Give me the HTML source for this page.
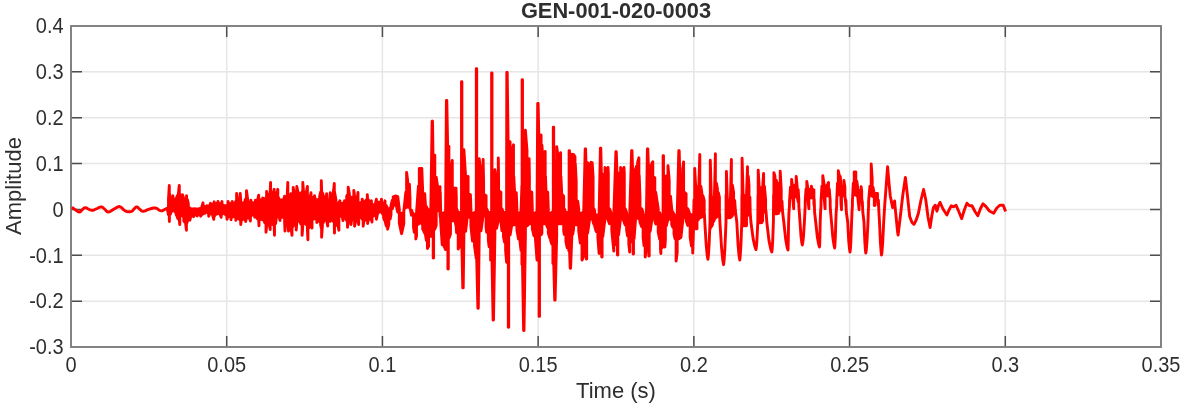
<!DOCTYPE html>
<html lang="en">
<head>
<meta charset="utf-8">
<title>GEN-001-020-0003</title>
<style>html,body{margin:0;padding:0;background:#fff;overflow:hidden}svg{display:block}</style>
</head>
<body>
<svg width="1182" height="404" viewBox="0 0 1182 404">
<rect width="1182" height="404" fill="#fff"/>
<path d="M226.71 26.0V347.0M382.43 26.0V347.0M538.14 26.0V347.0M693.86 26.0V347.0M849.57 26.0V347.0M1005.29 26.0V347.0M71.0 71.86H1161.0M71.0 117.71H1161.0M71.0 163.57H1161.0M71.0 209.43H1161.0M71.0 255.29H1161.0M71.0 301.14H1161.0" stroke="#e6e6e6" stroke-width="1.5" fill="none"/>
<path d="M226.71 26.0v11M226.71 347.0v-11M382.43 26.0v11M382.43 347.0v-11M538.14 26.0v11M538.14 347.0v-11M693.86 26.0v11M693.86 347.0v-11M849.57 26.0v11M849.57 347.0v-11M1005.29 26.0v11M1005.29 347.0v-11M71.0 71.86h11M1161.0 71.86h-11M71.0 117.71h11M1161.0 117.71h-11M71.0 163.57h11M1161.0 163.57h-11M71.0 209.43h11M1161.0 209.43h-11M71.0 255.29h11M1161.0 255.29h-11M71.0 301.14h11M1161.0 301.14h-11" stroke="#4d4d4d" stroke-width="1.5" fill="none"/>
<rect x="71.0" y="26.0" width="1090.0" height="321.0" fill="none" stroke="#7d7d7d" stroke-width="1.9"/>
<path d="M72.0 207.2L72.7 207.8L73.8 208.6L75.0 209.5L76.4 210.5L78.0 211.6L79.4 212.1L80.5 211.6L81.5 210.5L82.5 209.5L83.4 208.7L84.3 207.9L85.3 207.6L86.5 207.9L87.7 208.7L89.0 209.3L90.2 209.8L91.5 210.2L92.8 210.3L94.3 209.8L95.9 209.0L97.5 208.3L99.0 207.6L100.4 207.0L101.7 206.9L102.9 207.5L103.9 208.5L105.0 209.5L106.0 210.6L107.1 211.7L108.4 212.1L110.1 211.5L112.1 210.2L114.0 209.0L115.9 207.9L117.9 206.9L119.6 206.5L120.9 207.0L122.0 208.1L123.0 209.2L124.0 210.1L125.1 210.8L126.3 211.4L128.0 211.7L129.9 211.7L131.5 211.4L132.5 210.8L133.3 209.9L134.0 209.0L134.9 208.1L135.7 207.2L136.7 206.9L137.8 207.4L138.9 208.5L140.0 209.5L141.0 210.3L142.1 211.1L143.4 211.4L145.2 210.9L147.2 209.9L149.3 209.1L151.4 208.5L153.5 208.0L155.3 207.9L156.6 208.3L157.6 209.0L158.5 209.6L159.4 210.2L160.4 210.7L161.3 210.9L162.4 210.7L163.5 210.1L164.5 209.6L165.4 209.1L166.2 208.7L166.8 208.4L167.6 208.3L167.6 210.4L168.5 214.6L168.5 199.1L169.3 185.5L169.3 217.7L169.4 221.5L169.4 193.1L170.3 200.1L170.3 214.3L171.2 212.0L171.2 201.0L172.1 200.3L172.1 210.7L172.8 210.7L172.8 195.8L173.9 200.8L173.9 210.7L174.6 211.2L174.6 201.3L175.7 199.3L175.7 212.5L176.6 215.6L176.6 197.6L177.5 195.4L177.5 218.0L178.4 218.9L178.4 193.6L179.3 185.5L179.3 219.8L179.8 224.5L179.8 194.3L181.1 202.6L181.1 215.7L182.5 216.0L182.5 194.8L183.8 199.0L183.8 221.0L184.7 222.2L184.7 199.2L185.6 199.3L185.6 223.3L186.4 230.2L186.4 199.4L186.6 195.6L186.6 223.8L187.4 221.4L187.4 199.6L188.3 203.6L188.3 218.7L189.2 217.8L189.2 207.5L189.9 208.6L189.9 220.2L190.7 216.6L190.7 208.8L191.9 209.0L191.9 215.4L192.8 214.7L192.8 209.0L193.5 209.0L193.5 216.7L194.8 214.5L194.8 208.8L195.5 209.0L195.5 214.4L196.4 214.3L196.4 209.0L197.1 209.0L197.1 216.1L198.2 214.1L198.2 209.0L198.9 208.8L198.9 214.1L200.0 214.3L200.0 208.7L200.6 208.2L200.6 216.3L201.8 214.4L201.8 207.0L203.0 202.8L203.0 214.0L203.6 213.4L203.6 205.8L204.7 207.5L204.7 213.4L205.4 211.5L205.4 207.3L206.8 205.7L206.8 211.5L208.1 213.5L208.1 206.1L208.7 205.8L208.7 216.3L209.9 213.4L209.9 205.3L210.5 203.3L210.5 212.9L211.7 213.8L211.7 204.5L212.6 204.1L212.6 215.0L213.8 219.3L213.8 203.9L214.2 201.8L214.2 216.1L215.3 215.0L215.3 203.9L216.2 203.8L216.2 214.0L217.5 213.8L217.5 203.8L218.0 201.5L218.0 212.3L218.9 213.1L218.9 205.8L219.8 203.7L219.8 213.9L221.2 217.3L221.2 203.7L222.0 201.5L222.0 214.4L222.5 214.0L222.5 204.8L223.4 205.8L223.4 213.1L224.3 213.0L224.3 205.8L225.2 205.8L225.2 214.2L226.1 215.4L226.1 205.8L227.0 205.8L227.0 219.3L228.0 216.6L228.0 201.5L228.8 203.7L228.8 216.6L229.7 216.6L229.7 203.7L231.0 203.7L231.0 219.8L231.5 216.9L231.5 203.7L232.3 201.5L232.3 216.9L233.3 216.9L233.3 203.7L234.2 203.6L234.2 216.9L235.1 217.0L235.1 203.1L235.8 201.3L235.8 220.4L236.6 217.7L236.6 193.4L237.8 201.8L237.8 218.3L238.7 218.9L238.7 202.4L239.6 200.3L239.6 219.5L240.2 219.9L240.2 193.4L240.7 199.8L240.7 224.5L241.4 220.0L241.4 202.3L242.3 203.4L242.3 219.7L243.2 219.4L243.2 203.1L244.1 202.5L244.1 219.1L245.0 218.5L245.0 200.6L245.6 198.9L245.6 221.6L246.5 217.7L246.5 190.7L247.7 199.7L247.7 217.7L248.6 217.7L248.6 202.3L249.5 202.8L249.5 217.7L250.4 221.0L250.4 202.8L250.9 200.2L250.9 216.1L252.2 214.8L252.2 202.8L253.1 202.8L253.1 214.8L254.0 214.8L254.0 202.8L254.7 202.8L254.7 217.2L255.4 215.7L255.4 200.2L256.7 202.0L256.7 217.4L257.6 218.9L257.6 199.8L258.7 195.2L258.7 220.7L259.0 225.8L259.0 199.3L260.3 199.6L260.3 219.6L261.2 218.5L261.2 201.7L262.5 201.3L262.5 219.8L262.7 217.4L262.7 197.9L263.9 200.1L263.9 220.5L264.8 222.8L264.8 199.3L266.0 197.5L266.0 232.2L266.6 225.6L266.6 191.5L267.5 195.2L267.5 225.2L268.4 224.8L268.4 194.7L269.3 194.2L269.3 224.4L270.2 229.5L270.2 191.2L270.6 182.5L270.6 223.7L271.1 223.5L271.1 191.7L272.0 194.3L272.0 223.5L272.9 224.4L272.9 194.9L274.2 189.3L274.2 227.2L274.5 235.2L274.5 195.0L275.6 195.0L275.6 223.6L276.5 217.1L276.5 195.0L277.8 189.3L277.8 215.6L278.3 216.1L278.3 197.3L279.2 199.7L279.2 216.8L280.0 220.5L280.0 199.9L281.0 199.9L281.0 217.4L281.9 217.4L281.9 199.9L282.8 199.9L282.8 217.4L283.7 217.4L283.7 199.9L284.6 196.2L284.6 221.9L285.0 231.1L285.0 202.2L286.4 200.0L286.4 225.0L287.3 225.0L287.3 193.6L287.8 182.5L287.8 225.0L288.5 231.1L288.5 195.0L289.1 198.7L289.1 225.1L290.0 226.0L290.0 198.3L290.9 193.7L290.9 226.9L292.0 235.3L292.0 193.7L292.7 193.7L292.7 226.9L293.2 226.0L293.2 187.5L294.5 193.7L294.5 224.3L295.4 224.3L295.4 193.7L296.2 193.7L296.2 230.1L296.8 222.5L296.8 186.5L298.1 192.9L298.1 221.0L299.0 221.0L299.0 192.9L299.9 198.0L299.9 221.3L300.8 224.1L300.8 195.6L302.1 191.7L302.1 235.3L302.8 226.0L302.8 182.5L303.5 191.0L303.5 224.0L304.4 221.3L304.4 192.1L305.3 192.9L305.3 221.3L306.2 224.5L306.2 192.9L307.4 186.5L307.4 229.2L307.9 239.7L307.9 195.9L308.9 198.9L308.9 228.0L309.8 225.1L309.8 198.9L311.0 192.7L311.0 222.8L312.0 228.1L312.0 197.3L313.4 201.1L313.4 219.1L314.5 218.8L314.5 195.8L315.2 199.6L315.2 218.8L316.1 218.8L316.1 199.6L316.8 199.6L316.8 222.5L317.9 218.8L317.9 199.6L318.8 199.6L318.8 219.3L319.7 221.7L319.7 196.3L320.6 192.1L320.6 224.7L321.3 228.0L321.3 180.7L321.6 189.8L321.6 237.2L322.4 225.9L322.4 192.8L323.3 195.4L323.3 222.4L324.2 219.9L324.2 197.2L325.1 198.1L325.1 219.9L326.0 220.1L326.0 198.1L326.7 193.7L326.7 220.6L327.7 226.0L327.7 200.3L328.7 200.3L328.7 221.3L329.6 221.3L329.6 200.3L330.3 192.7L330.3 221.3L331.4 217.7L331.4 197.3L332.3 197.3L332.3 217.7L333.2 221.3L333.2 194.2L334.3 183.5L334.3 225.6L334.5 233.1L334.5 191.7L335.9 199.8L335.9 225.3L336.8 224.5L336.8 203.2L337.7 203.2L337.7 224.4L338.9 230.2L338.9 203.2L339.9 200.8L339.9 216.5L341.3 214.2L341.3 204.8L342.2 203.2L342.2 215.9L343.0 220.5L343.0 203.2L344.0 203.2L344.0 217.4L344.5 217.4L344.5 200.8L345.8 202.4L345.8 218.9L346.7 220.7L346.7 196.2L347.5 194.8L347.5 227.2L348.2 221.7L348.2 187.3L349.4 194.0L349.4 220.7L350.3 220.2L350.3 196.7L351.0 202.5L351.0 224.5L352.1 216.9L352.1 198.6L353.0 196.9L353.0 218.6L353.8 220.0L353.8 190.4L354.6 196.2L354.6 226.2L355.7 220.8L355.7 197.2L356.6 197.2L356.6 220.2L357.5 220.2L357.5 197.2L358.0 192.4L358.0 220.2L358.7 224.5L358.7 202.8L359.3 202.8L359.3 218.0L360.2 214.8L360.2 202.8L361.1 202.8L361.1 216.8L362.2 219.2L362.2 199.2L363.2 202.1L363.2 226.2L363.8 221.1L363.8 202.1L364.7 202.1L364.7 220.5L365.6 220.0L365.6 200.7L366.5 199.6L366.5 219.8L367.3 219.6L367.3 194.8L367.6 199.1L367.6 223.5L368.3 219.4L368.3 199.6L369.2 201.3L369.2 219.3L370.1 219.1L370.1 203.2L371.4 200.8L371.4 218.9L372.0 222.1L372.0 203.8L372.8 204.6L372.8 216.4L373.7 214.9L373.7 205.6L374.6 204.7L374.6 215.5L375.5 216.0L375.5 203.4L376.4 199.2L376.4 219.3L377.3 214.8L377.3 202.1L378.2 202.1L378.2 213.0L379.1 211.5L379.1 202.1L380.0 202.1L380.0 211.5L381.3 212.2L381.3 202.1L381.5 199.2L381.5 211.5L382.7 214.1L382.7 203.2L383.6 203.2L383.6 217.6L384.5 220.3L384.5 203.2L385.0 200.8L385.0 220.6L386.2 225.7L386.2 205.4L386.8 226.6L386.8 206.6L387.6 208.9L387.6 229.2L388.8 224.5L388.8 212.4L390.1 208.3L390.1 219.1L391.0 214.7L391.0 205.3L392.3 200.3L392.3 208.7L393.2 205.8L393.2 196.8L394.5 196.3L394.5 203.2L395.5 205.2L395.5 195.9L396.7 196.4L396.7 207.5L397.8 212.3L397.8 196.8L399.3 209.3L399.3 223.3L401.5 233.4L401.5 213.3L401.6 213.3L401.6 233.7L403.8 223.6L403.8 211.3L405.8 192.3L405.8 207.7L406.6 206.8L406.6 172.5L407.6 180.3L407.6 207.0L409.4 207.4L409.4 184.2L410.0 198.3L410.0 207.5L411.5 215.2L411.5 210.3L413.5 215.3L413.5 227.2L414.3 232.4L414.3 214.8L415.8 213.8L415.8 239.0L416.5 235.9L416.5 213.3L418.4 186.3L418.4 224.2L419.3 222.7L419.3 168.4L420.9 168.4L420.9 222.7L421.8 223.8L421.8 168.4L422.7 191.8L422.7 228.9L424.7 233.2L424.7 193.8L425.4 204.3L425.4 234.2L426.4 240.4L426.4 206.6L427.4 208.8L427.4 248.6L428.6 246.4L428.6 209.7L429.7 210.4L429.7 225.8L430.8 236.4L430.8 211.2L432.1 121.3L432.1 234.7L432.5 234.7L432.5 121.3L433.2 169.3L433.2 258.0L433.6 258.0L433.6 169.3L434.8 155.3L434.8 229.2L436.2 225.2L436.2 177.3L438.2 190.8L438.2 210.7L439.0 210.7L439.0 190.3L440.0 186.7L440.0 214.6L440.3 217.6L440.3 192.3L440.6 208.8L440.6 220.7L442.2 244.7L442.2 213.3L444.0 212.7L444.0 246.2L445.6 249.5L445.6 212.0L446.4 100.4L446.4 247.7L446.8 247.7L446.8 100.4L447.9 160.3L447.9 269.1L448.3 269.1L448.3 160.3L448.9 146.3L448.9 238.5L450.5 234.0L450.5 171.3L452.3 160.4L452.3 220.7L453.9 220.7L453.9 188.2L455.0 188.2L455.0 220.7L456.0 226.1L456.0 188.2L456.3 196.8L456.3 228.8L456.6 232.7L456.6 208.8L458.2 213.3L458.2 249.0L459.4 244.6L459.4 212.8L460.3 212.3L460.3 246.8L461.5 247.7L461.5 81.8L461.9 81.8L461.9 247.7L462.8 287.9L462.8 163.8L463.2 163.8L463.2 287.9L463.9 236.7L463.9 149.8L465.6 176.5L465.6 231.3L467.3 216.7L467.3 176.7L468.1 176.5L468.1 216.7L468.4 216.7L468.4 193.7L469.3 194.2L469.3 216.7L470.4 218.2L470.4 194.8L470.9 208.8L470.9 226.0L472.5 241.1L472.5 213.3L474.5 212.5L474.5 245.8L476.3 258.6L476.3 68.6L476.7 68.6L476.7 258.6L477.9 308.2L477.9 172.8L478.3 172.8L478.3 308.2L479.2 236.1L479.2 158.8L481.0 172.3L481.0 230.7L483.1 215.7L483.1 159.4L483.6 181.4L483.6 215.7L484.6 215.7L484.6 194.8L486.1 195.8L486.1 227.3L486.7 232.3L486.7 208.8L488.3 213.3L488.3 239.5L489.1 246.7L489.1 212.9L490.6 212.2L490.6 260.0L491.6 260.6L491.6 73.0L492.0 73.0L492.0 260.6L493.1 320.1L493.1 183.7L493.5 183.7L493.5 320.1L494.9 234.7L494.9 169.7L496.5 180.3L496.5 228.4L498.3 220.7L498.3 157.9L498.6 181.3L498.6 220.7L499.3 220.7L499.3 191.2L500.9 192.2L500.9 220.7L501.9 230.7L501.9 208.8L503.5 213.3L503.5 236.7L504.5 242.1L504.5 212.8L505.6 212.3L505.6 250.5L506.6 262.1L506.6 184.0L506.8 72.5L506.8 262.6L507.2 262.6L507.2 72.5L508.3 155.7L508.3 327.2L508.7 327.2L508.7 155.7L510.1 141.7L510.1 234.9L511.8 224.7L511.8 152.3L513.5 144.8L513.5 224.7L513.8 224.7L513.8 176.5L514.6 192.2L514.6 224.7L516.3 224.7L516.3 192.7L516.9 208.8L516.9 230.0L518.5 238.9L518.5 213.3L519.9 212.7L519.9 240.6L521.0 250.4L521.0 212.2L521.9 185.4L521.9 264.1L522.1 264.6L522.1 79.8L522.5 79.8L522.5 264.6L523.6 330.6L523.6 144.3L524.0 144.3L524.0 330.6L525.4 235.0L525.4 130.3L527.0 150.3L527.0 225.9L529.1 223.7L529.1 158.7L529.4 176.5L529.4 223.7L529.8 223.7L529.8 191.2L530.9 191.8L530.9 223.7L531.8 223.7L531.8 192.2L532.3 208.8L532.3 228.5L533.9 235.7L533.9 213.3L535.3 212.8L535.3 237.0L537.0 260.0L537.0 212.0L537.7 103.4L537.7 260.6L538.1 260.6L538.1 103.4L539.1 148.9L539.1 316.4L539.5 316.4L539.5 148.9L541.1 134.9L541.1 234.9L541.9 233.3L541.9 145.2L543.0 159.3L543.0 223.7L544.1 223.7L544.1 155.4L545.2 151.4L545.2 223.7L545.5 223.7L545.5 176.3L546.0 191.3L546.0 223.7L547.7 227.7L547.7 192.3L548.3 208.8L548.3 233.0L549.9 238.3L549.9 213.3L550.7 213.0L550.7 240.8L551.8 244.0L551.8 212.4L552.9 211.9L552.9 263.6L553.3 262.6L553.3 127.3L553.7 127.3L553.7 262.6L554.7 300.1L554.7 160.8L555.1 160.8L555.1 300.1L556.7 234.8L556.7 146.8L558.5 160.3L558.5 223.7L559.5 223.7L559.5 156.7L560.6 152.7L560.6 223.7L560.9 223.7L560.9 176.3L561.7 193.3L561.7 223.7L562.8 223.7L562.8 195.0L563.7 196.3L563.7 230.7L564.3 234.4L564.3 208.8L565.9 213.3L565.9 241.5L567.2 247.7L567.2 212.7L568.8 211.8L568.8 250.7L569.1 248.7L569.1 150.7L569.5 150.7L569.5 248.7L570.2 268.2L570.2 168.3L570.6 168.3L570.6 268.2L571.8 237.1L571.8 154.3L572.7 154.4L572.7 234.2L573.6 228.7L573.6 154.5L575.0 156.8L575.0 224.7L575.3 224.7L575.3 163.7L576.2 181.3L576.2 224.7L577.7 224.7L577.7 201.3L578.7 208.8L578.7 230.9L580.3 243.1L580.3 213.3L582.0 212.8L582.0 260.1L583.7 255.9L583.7 212.2L585.2 148.9L585.2 251.7L585.6 251.7L585.6 148.9L586.3 176.8L586.3 259.1L586.7 259.1L586.7 176.8L587.6 162.8L587.6 233.1L590.0 216.4L590.0 164.3L591.0 162.3L591.0 216.1L592.2 219.5L592.2 162.8L593.1 177.3L593.1 222.1L593.9 224.2L593.9 208.8L594.7 210.9L594.7 226.2L596.2 231.5L596.2 214.8L597.9 215.3L597.9 238.2L599.1 253.5L599.1 215.6L600.4 148.2L600.4 242.7L600.8 242.7L600.8 148.2L601.7 188.3L601.7 257.1L602.1 257.1L602.1 188.3L602.8 174.3L602.8 236.7L605.0 218.5L605.0 167.5L606.5 169.8L606.5 215.2L608.0 219.5L608.0 167.5L608.3 173.3L608.3 220.4L609.5 223.7L609.5 208.8L611.8 214.8L611.8 230.8L613.8 251.1L613.8 215.4L615.9 151.8L615.9 244.7L616.3 244.7L616.3 151.8L617.4 187.3L617.4 255.0L617.8 255.0L617.8 187.3L618.6 173.3L618.6 234.9L620.6 217.9L620.6 167.5L622.3 169.8L622.3 216.9L624.0 221.8L624.0 167.5L624.3 173.3L624.3 222.7L625.2 225.0L625.2 208.8L626.6 212.5L626.6 229.9L627.5 235.7L627.5 214.8L628.8 215.2L628.8 244.0L629.7 252.1L629.7 215.4L631.6 150.7L631.6 241.7L632.0 241.7L632.0 150.7L633.1 187.3L633.1 254.1L633.5 254.1L633.5 187.3L634.1 173.3L634.1 238.6L635.4 221.5L635.4 169.6L636.5 166.3L636.5 218.5L637.6 215.5L637.6 162.4L638.9 157.8L638.9 218.3L639.2 219.4L639.2 175.4L640.0 197.3L640.0 222.3L641.7 226.8L641.7 208.8L643.1 212.5L643.1 237.1L644.0 245.5L644.0 214.8L645.2 215.2L645.2 257.1L646.4 247.9L646.4 215.6L647.4 148.9L647.4 238.7L647.8 238.7L647.8 148.9L648.8 179.8L648.8 256.0L649.2 256.0L649.2 179.8L650.2 165.8L650.2 231.4L651.9 219.3L651.9 163.1L652.8 161.7L652.8 216.9L653.2 215.8L653.2 176.8L654.8 177.7L654.8 220.6L655.7 223.9L655.7 192.2L658.2 208.8L658.2 231.9L659.6 238.9L659.6 212.5L660.5 214.8L660.5 249.0L660.9 253.6L660.9 215.0L661.8 215.4L661.8 248.0L663.1 238.7L663.1 155.8L663.5 155.8L663.5 238.7L664.5 247.0L664.5 194.3L664.9 194.3L664.9 247.0L665.4 238.9L665.4 180.3L666.2 175.9L666.2 226.1L668.0 218.8L668.0 165.8L669.2 180.3L669.2 215.9L670.5 219.6L670.5 196.3L671.7 208.8L671.7 224.4L672.8 227.3L672.8 211.7L674.0 214.8L674.0 234.0L675.0 238.8L675.0 215.1L676.1 215.3L676.1 261.1L677.2 252.6L677.2 215.6L678.8 150.7L678.8 238.7L679.2 238.7L679.2 150.7L680.3 195.9L680.3 237.8L680.7 237.8L680.7 195.9L681.0 181.9L681.0 237.2L682.7 220.9L682.7 168.9L683.6 161.9L683.6 217.8L684.5 214.7L684.5 192.2L686.1 193.8L686.1 220.5L687.8 225.5L687.8 208.8L690.1 214.8L690.1 237.1L691.5 245.9L691.5 214.8L692.7 214.8L692.7 253.1L693.3 236.0L694.0 200.0L694.7 228.7L694.7 168.4L695.7 187.0L695.7 228.7L697.0 228.7L697.0 187.0L698.1 187.0L698.1 220.0L698.8 218.4L698.8 187.0L699.8 154.5L699.8 217.9L700.8 217.4L700.8 186.3L701.8 192.2L701.8 216.9L702.8 216.4L702.8 195.5L704.2 200.5L704.2 215.7L704.4 214.0L704.8 222.0L706.2 245.1L707.2 255.6L707.9 259.3L708.4 255.6L709.1 245.1L710.0 222.0L710.1 195.0L710.3 228.7L710.3 160.3L711.3 197.2L711.3 226.8L712.6 224.4L712.6 197.2L713.8 197.2L713.8 221.3L714.4 219.3L714.4 197.2L715.4 153.8L715.4 218.0L716.4 217.2L716.4 183.3L717.4 188.8L717.4 216.3L718.4 215.5L718.4 192.7L719.4 197.2L719.4 214.7L719.6 214.0L719.9 222.0L721.6 248.5L722.8 260.4L723.6 264.7L724.1 260.4L724.9 248.5L726.0 222.0L726.1 195.0L726.4 217.7L726.4 171.4L727.4 200.5L727.4 217.7L728.7 217.7L728.7 200.5L729.9 200.5L729.9 217.7L730.4 217.7L730.4 200.5L731.4 159.4L731.4 216.8L732.4 215.5L732.4 185.3L733.6 192.2L733.6 214.0L734.7 212.7L734.7 200.5L735.4 211.0L736.8 222.0L738.1 245.6L739.1 256.2L739.8 260.0L740.2 256.2L740.9 245.6L741.8 222.0L741.9 195.0L742.1 225.7L742.1 158.2L743.1 195.4L743.1 225.7L744.4 225.7L744.4 195.4L745.5 195.4L745.5 225.7L746.5 225.7L746.5 195.4L747.5 166.8L747.5 215.8L748.3 213.7L748.3 176.3L749.0 185.5L749.0 212.8L749.9 211.7L749.9 197.2L750.2 212.0L750.9 222.0L753.2 239.1L754.9 246.8L756.0 249.6L756.4 246.8L757.0 239.1L757.8 222.0L758.0 195.0L758.2 222.7L758.2 170.2L759.2 187.8L759.2 222.7L760.5 222.7L760.5 187.8L761.6 187.8L761.6 222.7L762.6 220.8L762.6 187.8L763.6 173.4L763.6 212.5L764.4 211.4L764.4 186.3L765.6 199.3L765.6 209.7L766.0 211.0L766.8 222.0L769.0 240.6L770.7 249.0L771.8 252.0L772.2 249.0L772.7 240.6L773.4 222.0L773.6 195.0L773.9 213.7L773.9 172.7L775.0 176.3L775.0 213.7L776.3 213.7L776.3 180.2L776.9 183.3L776.9 213.7L778.5 213.4L778.5 183.3L779.2 183.3L779.2 211.6L780.2 209.5L780.2 171.3L781.2 189.3L781.2 209.0L782.0 208.7L782.0 201.3L782.6 212.0L783.8 222.0L785.7 239.4L787.1 247.2L788.0 250.0L788.1 247.2L788.3 239.4L788.6 222.0L789.0 212.0L789.5 205.7L789.5 201.3L790.5 187.3L790.5 197.5L791.6 196.7L791.6 179.5L792.6 187.3L792.6 196.7L793.7 208.7L793.7 190.8L794.9 185.3L794.9 196.7L796.2 196.7L796.2 176.5L797.2 187.3L797.2 196.7L798.2 202.1L798.2 189.8L798.8 199.3L798.8 205.7L799.3 212.0L800.0 222.0L801.0 236.3L801.8 242.7L802.3 245.0L802.8 242.7L803.5 236.3L804.4 222.0L804.9 212.0L805.2 205.7L805.2 201.3L806.0 189.3L806.0 198.5L806.8 197.7L806.8 181.5L807.8 188.3L807.8 197.7L808.9 208.7L808.9 191.8L810.2 189.3L810.2 197.7L811.4 197.7L811.4 186.2L812.1 189.0L812.1 197.7L812.7 197.7L812.7 191.3L813.9 189.8L813.9 203.6L814.2 205.7L814.2 199.3L814.6 212.0L815.7 222.0L817.4 237.5L818.7 244.5L819.5 247.0L819.7 244.5L819.9 237.5L820.2 222.0L820.6 212.0L821.0 205.7L821.0 201.3L821.9 186.3L821.9 195.7L822.8 195.7L822.8 175.7L823.9 183.3L823.9 195.7L825.1 208.7L825.1 187.2L826.8 185.3L826.8 195.7L827.9 195.7L827.9 183.5L828.5 182.5L828.5 195.7L829.3 195.7L829.3 189.3L830.2 200.3L830.2 205.7L830.6 212.0L831.5 222.0L832.9 238.1L834.0 245.4L834.7 248.0L834.9 245.4L835.3 238.1L835.8 222.0L836.2 212.0L836.7 205.7L836.7 201.3L837.5 183.3L837.5 194.7L838.3 194.7L838.3 170.7L839.3 175.3L839.3 194.7L840.3 194.7L840.3 176.5L840.9 185.3L840.9 202.2L841.5 209.7L841.5 189.8L842.7 186.3L842.7 195.7L843.9 195.7L843.9 180.5L844.9 187.3L844.9 195.7L845.9 205.7L845.9 200.3L846.3 212.0L847.7 222.0L848.7 240.6L849.5 249.0L850.0 252.0L850.4 249.0L850.9 240.6L851.6 222.0L852.0 212.0L852.4 205.7L852.4 201.3L853.3 183.3L853.3 194.7L854.2 194.9L854.2 171.9L855.8 171.9L855.8 195.2L856.8 195.5L856.8 181.3L857.6 186.7L857.6 195.7L859.1 209.7L859.1 193.8L860.1 190.3L860.1 197.7L861.1 197.7L861.1 186.7L861.7 191.3L861.7 197.7L862.3 205.7L862.3 201.3L862.8 212.0L864.0 222.0L864.8 241.2L865.4 249.9L865.8 253.0L866.3 249.9L867.0 241.2L868.0 222.0L868.3 212.0L868.6 205.7L868.6 201.3L869.9 186.3L869.9 194.7L871.2 195.5L871.2 164.0L872.2 179.3L872.2 196.1L873.0 196.7L873.0 187.3L874.3 194.3L874.3 205.6L874.9 205.4L874.9 195.8L875.8 193.5L875.8 198.7L876.6 198.7L876.6 193.5L877.5 193.5L877.5 198.7L878.4 205.7L878.4 200.3L878.9 212.0L879.5 222.0L880.4 242.5L881.1 251.7L881.5 255.0L882.0 251.7L882.7 242.5L883.7 222.0L884.8 204.0L887.6 166.6L889.1 184.0L890.3 196.0L892.6 207.5L894.6 200.9L895.3 209.0L896.6 222.0L897.6 232.0L898.1 235.0L900.5 215.0L902.8 195.0L905.4 177.5L907.5 196.0L909.7 216.5L912.0 222.5L914.0 224.3L916.2 220.0L918.4 213.3L921.0 200.0L923.6 189.5L925.8 200.0L928.0 217.0L930.1 227.5L931.8 216.0L933.4 207.6L935.2 205.2L936.9 211.2L938.5 205.5L940.0 202.4L943.0 209.0L946.9 215.0L949.0 210.0L951.3 205.8L953.6 206.8L956.0 205.2L958.8 211.5L961.7 218.7L964.3 210.0L966.9 203.2L969.5 205.8L972.0 205.8L975.0 211.5L977.8 215.7L980.5 208.5L983.0 203.8L986.0 206.6L989.4 211.0L993.7 213.2L996.8 208.0L999.8 205.2L1003.2 205.2L1004.5 208.5L1005.6 211.5" stroke="#ff0000" stroke-width="2.9" fill="none" stroke-linejoin="round" stroke-linecap="butt"/>
<g font-family="'Liberation Sans', sans-serif" fill="#2e2e2e">
<g font-size="20px" text-anchor="middle">
<text transform="translate(71.0 372.4) scale(1 1.07)">0</text>
<text transform="translate(226.7 372.4) scale(1 1.07)">0.05</text>
<text transform="translate(382.4 372.4) scale(1 1.07)">0.1</text>
<text transform="translate(538.1 372.4) scale(1 1.07)">0.15</text>
<text transform="translate(693.9 372.4) scale(1 1.07)">0.2</text>
<text transform="translate(849.6 372.4) scale(1 1.07)">0.25</text>
<text transform="translate(1005.3 372.4) scale(1 1.07)">0.3</text>
<text transform="translate(1161.0 372.4) scale(1 1.07)">0.35</text>
</g>
<g font-size="20px" text-anchor="end">
<text transform="translate(63.6 33.3) scale(1 1.07)">0.4</text>
<text transform="translate(63.6 79.2) scale(1 1.07)">0.3</text>
<text transform="translate(63.6 125.0) scale(1 1.07)">0.2</text>
<text transform="translate(63.6 170.9) scale(1 1.07)">0.1</text>
<text transform="translate(63.6 216.7) scale(1 1.07)">0</text>
<text transform="translate(63.6 262.6) scale(1 1.07)">-0.1</text>
<text transform="translate(63.6 308.4) scale(1 1.07)">-0.2</text>
<text transform="translate(63.6 354.3) scale(1 1.07)">-0.3</text>
</g>
<text x="616" y="397.8" font-size="22px" text-anchor="middle">Time (s)</text>
<text transform="translate(21.2 186) rotate(-90)" font-size="22px" text-anchor="middle">Amplitude</text>
<text transform="translate(616 18.3) scale(1 1.04)" font-size="21.8px" font-weight="bold" text-anchor="middle">GEN-001-020-0003</text>
</g>
</svg>
</body>
</html>
